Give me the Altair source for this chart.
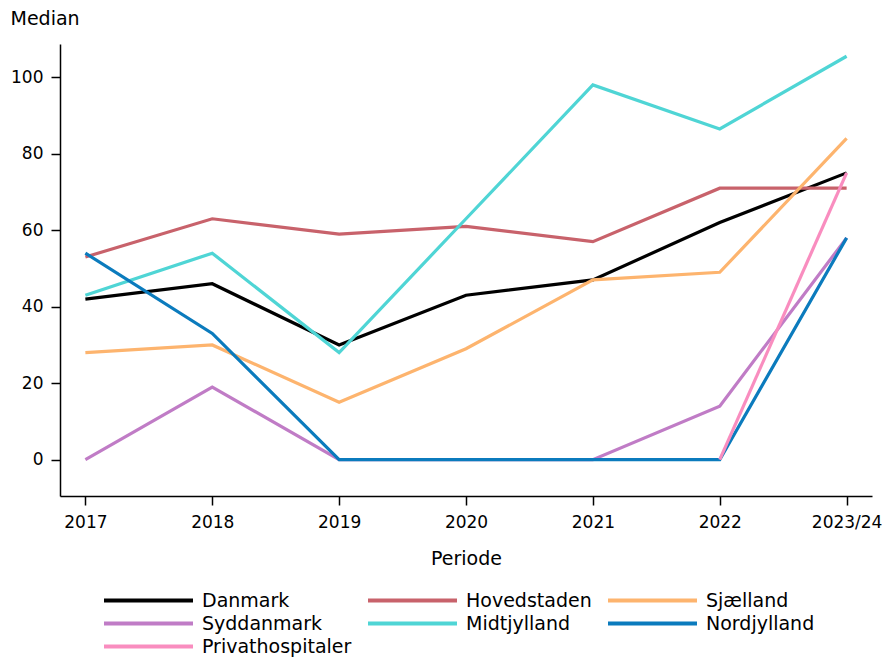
import altair as alt
import pandas as pd

periods = ["2017", "2018", "2019", "2020", "2021", "2022", "2023/24"]
series_names = ["Danmark", "Hovedstaden", "Sjælland", "Syddanmark", "Midtjylland", "Nordjylland", "Privathospitaler"]
colors = ["#000000", "#c8626b", "#fdb46e", "#c07cc6", "#4fd5d5", "#0b7bbd", "#f98dbf"]

danmark = [42, 46, 30, 43, 47, 62, 75]
hovedstaden = [53, 63, 59, 61, 57, 71, 71]
sjaelland = [28, 30, 15, 29, 47, 49, 84]
syddanmark = [0, 19, 0, 0, 0, 14, 58]
midtjylland = [43, 54, 28, 63, 98, 86.5, 105.5]
nordjylland = [54, 33, 0, 0, 0, 0, 58]
privathospitaler = [None, None, None, None, None, 0, 75]

values = [danmark, hovedstaden, sjaelland, syddanmark, midtjylland, nordjylland, privathospitaler]

rows = []
for name, vals in zip(series_names, values):
    for p, v in zip(periods, vals):
        if v is not None:
            rows.append({"Periode": p, "Median": v, "Region": name, "order": series_names.index(name)})
df = pd.DataFrame(rows)

chart = alt.Chart(df).mark_line(strokeWidth=3.2).encode(
    x=alt.X("Periode:N", sort=periods,
            scale=alt.Scale(type="point", padding=0.2),
            axis=alt.Axis(title="Periode", labelAngle=0, labelFontSize=17, titleFontSize=19,
                          titleFontWeight="normal", tickSize=9, labelPadding=9, titlePadding=19,
                          domainColor="black", tickColor="black", domainWidth=1.5, tickWidth=1.5,
                          labelColor="black", titleColor="black", grid=False)),
    y=alt.Y("Median:Q", scale=alt.Scale(domain=[-9.5, 108.7], nice=False, zero=False),
            axis=alt.Axis(title="Median", values=[0, 20, 40, 60, 80, 100], labelFontSize=17,
                          titleFontSize=19, titleFontWeight="normal", titleAngle=0,
                          titleAlign="left", titleBaseline="alphabetic", titleX=-50, titleY=-20,
                          tickSize=9, labelPadding=8, domainColor="black", tickColor="black",
                          domainWidth=1.5, tickWidth=1.5, labelColor="black", titleColor="black",
                          grid=False)),
    color=alt.Color("Region:N", scale=alt.Scale(domain=series_names, range=colors),
                    legend=alt.Legend(title=None, orient="none", legendX=42, legendY=546,
                                      columns=3, symbolType="stroke", symbolSize=7921,
                                      symbolStrokeWidth=4, clipHeight=21, rowPadding=2,
                                      columnPadding=14, labelFontSize=19, labelOffset=7,
                                      labelColor="black", padding=0, direction="horizontal")),
    order=alt.Order("order:Q"),
).properties(
    width=812,
    height=452,
    autosize=alt.AutoSizeParams(type="none"),
    padding={"left": 52, "top": 36, "right": 11, "bottom": 165},
).configure(font="DejaVu Sans").configure_view(stroke="transparent", strokeWidth=0)

chart.save("out.html", embed_options={"renderer": "svg", "actions": False})
